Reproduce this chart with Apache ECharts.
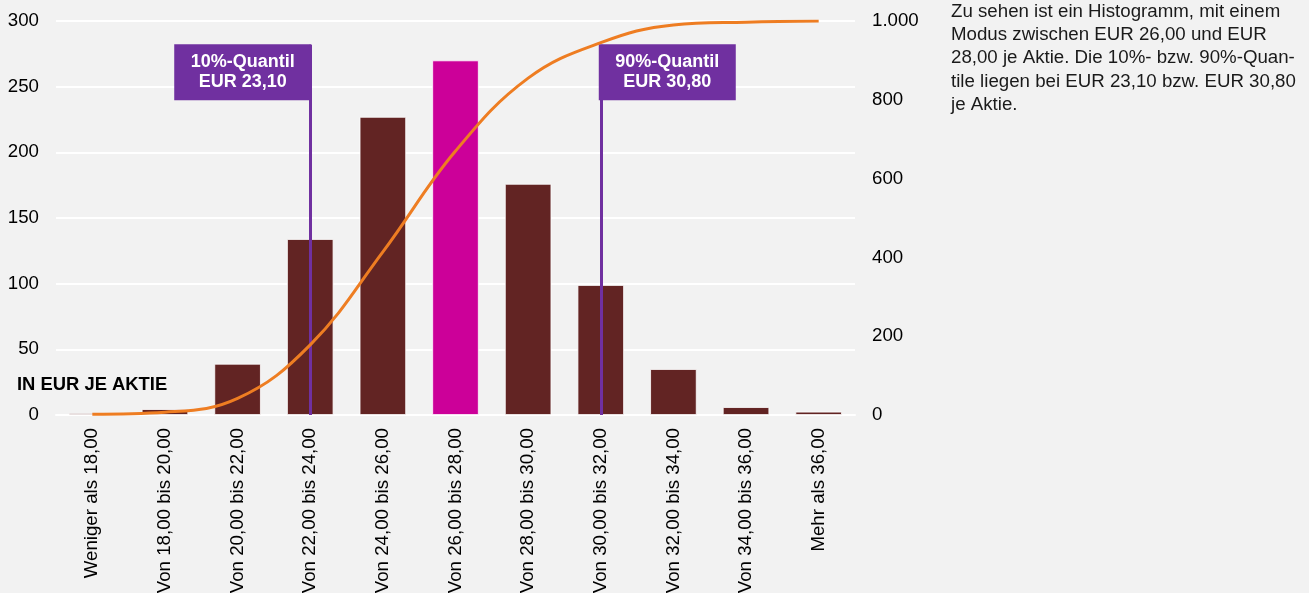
<!DOCTYPE html>
<html>
<head>
<meta charset="utf-8">
<script src="https://cdn.jsdelivr.net/npm/echarts@6/dist/echarts.min.js"></script>
<style>
html,body{margin:0;padding:0;background:#f2f2f2;}
#c{width:1309px;height:593px;}
</style>
</head>
<body>
<div id="c"></div>
<script>
var categories = ["Weniger als 18,00","Von 18,00 bis 20,00","Von 20,00 bis 22,00","Von 22,00 bis 24,00","Von 24,00 bis 26,00","Von 26,00 bis 28,00","Von 28,00 bis 30,00","Von 30,00 bis 32,00","Von 32,00 bis 34,00","Von 34,00 bis 36,00","Mehr als 36,00"];
var counts = [1.5, 4.5, 39, 134, 227, 270, 176, 99, 35, 6, 2.5];
var cumulative = [2, 7, 42, 178, 414, 670, 855, 945, 990, 997, 1000];
var modeIndex = 5;
var quantiles = [
  {name: "10%-Quantil", value: "EUR 23,10", cat: 3, top: 282},
  {name: "90%-Quantil", value: "EUR 30,80", cat: 7, top: 282}
];
var leftTicks = {min: 0, max: 300, interval: 50};
var rightTicks = {min: 0, max: 1000, interval: 200};
var unitLabel = "IN EUR JE AKTIE";
var noteLines = ["Zu sehen ist ein Histogramm, mit einem","Modus zwischen EUR 26,00 und EUR","28,00 je Aktie. Die 10%- bzw. 90%-Quan-","tile liegen bei EUR 23,10 bzw. EUR 30,80","je Aktie."];

var FONT = '"Liberation Sans", Arial, sans-serif';
var FS = 18.7;
var purple = '#7030A0';

var chart = echarts.init(document.getElementById('c'));

var barData = counts.map(function (v, i) {
  return {value: v, itemStyle: {color: i === modeIndex ? '#CC0099' : '#622423'}};
});

var mlData = quantiles.map(function (q) {
  return [{coord: [q.cat, 0]}, {coord: [q.cat, q.top]}];
});
var mpData = quantiles.map(function (q, i) {
  return {
    coord: [q.cat, q.top],
    symbol: 'circle', symbolSize: 1,
    itemStyle: {color: 'rgba(0,0,0,0)'},
    label: {
      show: true,
      formatter: q.name + '\n' + q.value,
      position: i === 0 ? [-67, 0] : [67, 0],
      align: 'center',
      verticalAlign: 'top',
      width: 103,
      color: '#fff', fontWeight: 'bold', fontSize: 18, fontFamily: FONT,
      lineHeight: 20,
      backgroundColor: purple,
      padding: [8, 17, 8, 17]
    }
  };
});

chart.setOption({
  backgroundColor: '#f2f2f2',
  animation: false,
  textStyle: {fontFamily: FONT},
  grid: {left: 56, right: 454, top: 21, bottom: 178, containLabel: false, outerBoundsMode: 'none'},
  title: {
    text: unitLabel, left: 17, top: 376, padding: 0,
    textStyle: {fontSize: 18.4, fontWeight: 'bold', color: '#000', fontFamily: FONT}
  },
  graphic: [{
    type: 'text', left: 951, top: 0,
    style: {
      text: noteLines.join('\n'), fontSize: FS, lineHeight: 23.3,
      fill: '#1a1a1a', fontFamily: FONT
    }
  }],
  xAxis: {
    type: 'category', data: categories,
    axisLine: {show: true, lineStyle: {color: '#ffffff', width: 2}},
    axisTick: {show: false},
    axisLabel: {rotate: 90, margin: 13, fontSize: FS, color: '#000', fontFamily: FONT, interval: 0}
  },
  yAxis: [{
    type: 'value', min: leftTicks.min, max: leftTicks.max, interval: leftTicks.interval,
    axisLine: {show: false}, axisTick: {show: false},
    axisLabel: {fontSize: FS, color: '#000', margin: 17, fontFamily: FONT},
    splitLine: {show: true, lineStyle: {color: '#ffffff', width: 2}}
  }, {
    type: 'value', min: rightTicks.min, max: rightTicks.max, interval: rightTicks.interval,
    position: 'right',
    axisLine: {show: false}, axisTick: {show: false},
    axisLabel: {fontSize: FS, color: '#000', margin: 17, fontFamily: FONT,
      formatter: function (v) { return String(v).replace(/\B(?=(\d{3})+(?!\d))/g, '.'); }},
    splitLine: {show: false}
  }],
  series: [{
    type: 'bar', data: barData, barWidth: '64%', yAxisIndex: 0,
    itemStyle: {borderColor: '#ffffff', borderWidth: 0.8},
    markLine: {
      silent: true, symbol: ['none', 'none'],
      lineStyle: {color: purple, width: 3, type: 'solid'},
      label: {show: false},
      data: mlData
    },
    markPoint: {silent: true, data: mpData}
  }, {
    type: 'line', data: cumulative, yAxisIndex: 1, smooth: 0.4,
    symbol: 'none', lineStyle: {color: '#EE7D22', width: 3}, z: 5
  }]
});
</script>
</body>
</html>
